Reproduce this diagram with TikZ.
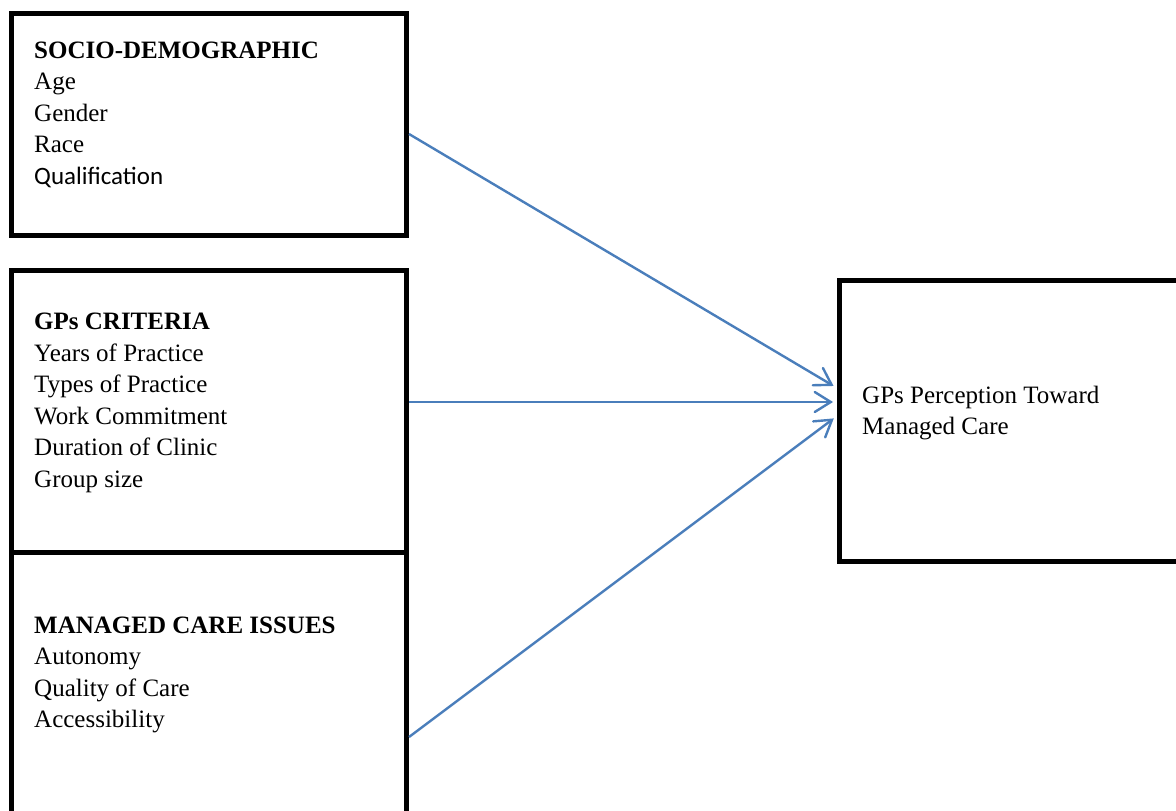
\documentclass[tikz,border=0pt]{standalone}
\usepackage{fontspec}
\setmainfont{Liberation Serif}
\newfontfamily\calib{Carlito}
\usetikzlibrary{arrows.meta}
\definecolor{arrowblue}{HTML}{4A7EBB}
\begin{document}
\begin{tikzpicture}[x=1pt,y=-1pt,
  box/.style={draw=black,line width=5pt,rectangle,inner sep=0pt,fill=none},
  txt/.style={anchor=base west,inner sep=0pt,align=left,font=\fontsize{25}{31.5}\selectfont},
  conn/.style={draw=arrowblue,line width=2.4pt,-{Straight Barb[length=16pt,width=20pt,line width=2.4pt,line cap=round]},shorten >=4pt}]
\useasboundingbox (0,0) rectangle (1176,811);
\node[box,minimum width=395pt,minimum height=222pt] (b1) at (209,124.5) {};
\node[box,minimum width=395pt,minimum height=281.5pt] (b2) at (209,411.25) {};
\node[box,minimum width=395pt,minimum height=370pt] (b3) at (209,737) {};
\node[box,minimum width=400.5pt,minimum height=281pt] (b4) at (1039.75,421) {};
% base anchor of a multi-line node = baseline of its last line
\node[txt] (t1) at (34,184) {\textbf{SOCIO-DEMOGRAPHIC}\\Age\\Gender\\Race\\{\calib Qualification}};
\node[txt] (t2) at (34,487) {\textbf{GPs CRITERIA}\\Years of Practice\\Types of Practice\\Work Commitment\\Duration of Clinic\\Group size};
\node[txt] (t3) at (34,727.5) {\textbf{MANAGED CARE ISSUES}\\Autonomy\\Quality of Care\\Accessibility};
\node[txt] (t4) at (862,434.5) {GPs Perception Toward\\Managed Care};
\draw[conn] ([yshift=-9.5pt]b1.east) -- ([yshift=33pt]b4.west);
\draw[conn] ([yshift=9.25pt]b2.east) -- ([yshift=19pt]b4.west);
\draw[conn] (b3.east) -- ([yshift=5pt]b4.west);
\end{tikzpicture}
\end{document}
